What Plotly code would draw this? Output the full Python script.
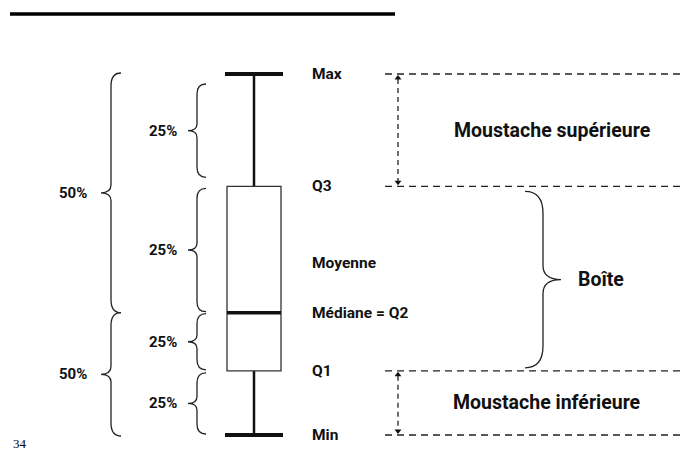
import plotly.graph_objects as go

# ---- data (box plot statistics, illustrative) ----
stat_names = ["Min", "Q1", "Médiane = Q2", "Moyenne", "Q3", "Max"]
stat_min = 10.0
stat_q1 = 26.0
stat_median = 40.5
stat_mean = 53.0
stat_q3 = 72.0
stat_max = 100.0
pct_inner = ["25%", "25%", "25%", "25%"]
pct_outer = ["50%", "50%"]
zone_labels = ["Moustache supérieure", "Boîte", "Moustache inférieure"]
page_number = "34"

W, H = 683, 450
Y_RANGE = [6.2604, 118.449]
PX = H / (Y_RANGE[1] - Y_RANGE[0])  # pixels per data unit

def d(px):
    return px / PX

FONT = "Roboto"
INK = "#111111"

def brace(xs, ytop, ybot, direction, h, r, rm=None):
    """Curly brace path. direction=-1: tip points left; +1: tip points right."""
    if rm is None:
        rm = r
    xe = xs - direction * h
    xt = xs + direction * h
    ym = (ytop + ybot) / 2
    rr, rmm = d(r), d(rm)
    return (f"M {xe},{ytop} Q {xs},{ytop} {xs},{ytop - rr} "
            f"L {xs},{ym + rmm} Q {xs},{ym} {xt},{ym} "
            f"Q {xs},{ym} {xs},{ym - rmm} "
            f"L {xs},{ybot + rr} Q {xs},{ybot} {xe},{ybot}")

fig = go.Figure()
shapes = []
annots = []

# top rule
shapes.append(dict(type="line", xref="paper", yref="paper", x0=10 / W, x1=395 / W,
                   y0=1 - 14 / H, y1=1 - 14 / H, line=dict(color="black", width=3.5)))

# box plot drawing
bx0, bx1, bxc = 227, 281, 254
shapes.append(dict(type="line", x0=bxc, x1=bxc, y0=stat_q3, y1=stat_max,
                   line=dict(color=INK, width=2.5)))
shapes.append(dict(type="line", x0=bxc, x1=bxc, y0=stat_min, y1=stat_q1,
                   line=dict(color=INK, width=2.5)))
shapes.append(dict(type="rect", x0=bx0, x1=bx1, y0=stat_q1, y1=stat_q3,
                   line=dict(color="#333333", width=1.3), fillcolor="white"))
shapes.append(dict(type="line", x0=bx0 - 2, x1=bx1 + 2, y0=stat_max, y1=stat_max,
                   line=dict(color=INK, width=4)))
shapes.append(dict(type="line", x0=bx0 - 2, x1=bx1 + 2, y0=stat_min, y1=stat_min,
                   line=dict(color=INK, width=4)))
shapes.append(dict(type="line", x0=bx0, x1=bx1, y0=stat_median, y1=stat_median,
                   line=dict(color=INK, width=3.5)))

fig.add_trace(go.Scatter(x=[bxc], y=[stat_mean], mode="markers",
                         marker=dict(color="black", size=13), hoverinfo="skip"))

# labels right of box
label_vals = [stat_min, stat_q1, stat_median, stat_mean, stat_q3, stat_max]
for name, v in zip(stat_names, label_vals):
    annots.append(dict(x=310, y=v, text=f"<b>{name}</b>", showarrow=False,
                       xanchor="left", yanchor="middle",
                       font=dict(family=FONT, size=15.5, color=INK)))

# inner 25% braces
inner = [(stat_max, stat_q3, 10, 9), (stat_q3, stat_median, 2, 1),
         (stat_median, stat_q1, 1, 1), (stat_q1, stat_min, 2, 1)]
for lab, (a, b, ga, gb) in zip(pct_inner, inner):
    yt, yb = a - d(ga), b + d(gb)
    shapes.append(dict(type="path", path=brace(197, yt, yb, -1, 9, 10, 7),
                       line=dict(color="#222222", width=1.3)))
    annots.append(dict(x=179, y=(yt + yb) / 2, text=f"<b>{lab}</b>", showarrow=False,
                       xanchor="right", yanchor="middle",
                       font=dict(family=FONT, size=15, color=INK)))

# outer 50% braces
outer = [(stat_max, stat_median, -1, 0), (stat_median, stat_min, 0, -1)]
for lab, (a, b, ga, gb) in zip(pct_outer, outer):
    yt, yb = a - d(ga), b + d(gb)
    shapes.append(dict(type="path", path=brace(111, yt, yb, -1, 10, 13, 8),
                       line=dict(color="#222222", width=1.3)))
    annots.append(dict(x=89, y=(yt + yb) / 2, text=f"<b>{lab}</b>", showarrow=False,
                       xanchor="right", yanchor="middle",
                       font=dict(family=FONT, size=15, color=INK)))

# Boîte brace (right side)
bt, bb = stat_q3 - d(5), stat_q1 + d(3)
shapes.append(dict(type="path", path=brace(543, bt, bb, 1, 18, 22, 14),
                   line=dict(color="#222222", width=1.3)))
annots.append(dict(x=576, y=(bt + bb) / 2, text=f"<b>{zone_labels[1]}</b>", showarrow=False,
                   xanchor="left", yanchor="middle",
                   font=dict(family=FONT, size=19.5, color=INK)))

# dashed horizontal guides
for v in [stat_max, stat_q3, stat_q1, stat_min]:
    shapes.append(dict(type="line", x0=385, x1=683, y0=v, y1=v,
                       line=dict(color="#222222", width=1.3, dash="7px,5px")))

# vertical double arrows
for a, b in [(stat_max, stat_q3), (stat_q1, stat_min)]:
    shapes.append(dict(type="line", x0=398, x1=398, y0=a - d(5), y1=b + d(5),
                       line=dict(color="#222222", width=1.3, dash="5px,4px")))
    fig.add_trace(go.Scatter(x=[398, 398], y=[a - d(4), b + d(4)], mode="markers",
                             marker=dict(symbol=["triangle-up", "triangle-down"],
                                         size=6, color="#111111"),
                             hoverinfo="skip"))

annots.append(dict(x=552, y=(stat_max + stat_q3) / 2, text=f"<b>{zone_labels[0]}</b>",
                   showarrow=False, xanchor="center", yanchor="middle",
                   font=dict(family=FONT, size=19.5, color=INK)))
annots.append(dict(x=547, y=(stat_q1 + stat_min) / 2, text=f"<b>{zone_labels[2]}</b>",
                   showarrow=False, xanchor="center", yanchor="middle",
                   font=dict(family=FONT, size=19.5, color=INK)))

# page number
annots.append(dict(x=11 / W, y=1 - 443 / H, xref="paper", yref="paper", text=page_number,
                   showarrow=False, xanchor="left", yanchor="middle",
                   font=dict(family="Liberation Serif", size=13, color="#000000")))

fig.update_layout(
    width=W, height=H, margin=dict(l=0, r=0, t=0, b=0),
    paper_bgcolor="white", plot_bgcolor="white", showlegend=False,
    xaxis=dict(range=[0, W], visible=False, fixedrange=True),
    yaxis=dict(range=Y_RANGE, visible=False, fixedrange=True),
    shapes=shapes, annotations=annots,
)

fig.write_html("out.html", config={"displayModeBar": False},
               post_script="document.body.style.margin='0';document.body.style.overflow='hidden';")
